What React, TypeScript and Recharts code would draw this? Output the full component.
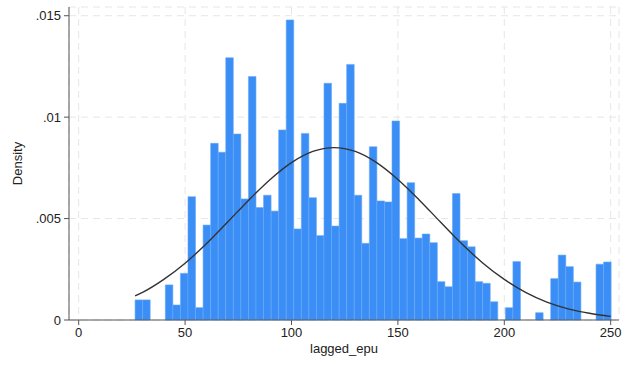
import React from "react";
import {
  ComposedChart,
  Line,
  XAxis,
  YAxis,
  CartesianGrid,
  ReferenceArea,
} from "recharts";

// histogram bins (63 equal bins starting at the data minimum)
const BIN_START = 26.5;
const BIN_WIDTH = 3.551;
const densities = [
  0.00099, 0.00099, 0, 0, 0.00173, 0.00074, 0.0023, 0.00608, 0.00061, 0.00468,
  0.00871, 0.00827, 0.01293, 0.00917, 0.00597, 0.012, 0.00554, 0.00615, 0.00537, 0.00937,
  0.01479, 0.00449, 0.0092, 0.00603, 0.00416, 0.01167, 0.00463, 0.01068, 0.0126, 0.00615,
  0.00378, 0.00854, 0.00587, 0.00582, 0.00981, 0.00401, 0.00677, 0.00404, 0.00424, 0.00381,
  0.00189, 0.00164, 0.00623, 0.00391, 0.00361, 0.00189, 0.00181, 0.0009, 0, 0.00061,
  0.00288, 0, 0, 0.00036, 0, 0.00204, 0.0032, 0.00263, 0.00187, 0, 0, 0.00275, 0.00286,
];

// normal density overlay
const curveX = [26.5, 30, 40, 50, 60, 70, 80, 90, 100, 110, 120, 130, 140, 150, 160, 170, 180, 190, 200, 210, 220, 230, 240, 250];
const curveY = [
  0.00119, 0.00136, 0.002, 0.0028, 0.00376, 0.00483, 0.00592, 0.00693, 0.00776, 0.00831, 0.0085, 0.00831,
  0.00776, 0.00693, 0.00592, 0.00483, 0.00376, 0.0028, 0.002, 0.00136, 0.00088, 0.00055, 0.00033, 0.00018,
];

const xTicks = [0, 50, 100, 150, 200, 250];
const yTicks = [0, 0.005, 0.01, 0.015];

const curveData = curveX.map((x, i) => ({ x, y: curveY[i] }));
const bins = densities.map((d, i) => ({
  x1: BIN_START + i * BIN_WIDTH,
  x2: BIN_START + (i + 1) * BIN_WIDTH,
  d,
}));

const font = "'Liberation Sans', Arial, Helvetica, sans-serif";
const fmtY = (v: number) => (v === 0 ? "0" : v.toString().replace(/^0\./, "."));

export default function App() {
  return (
    <div style={{ position: "absolute", left: 0, top: 0, width: 629, height: 365, background: "#fff" }}>
      <ComposedChart width={629} height={365} margin={{ top: 7, right: 10, bottom: 0, left: 0 }}>
        <CartesianGrid stroke="#e6e6e6" strokeDasharray="7 5" />
        <XAxis
          type="number"
          dataKey="x"
          domain={[-4.55, 253.9]}
          allowDataOverflow
          ticks={xTicks}
          height={45}
          tickSize={5}
          tickMargin={3}
          stroke="#555"
          tick={{ fill: "#222", fontSize: 13, fontFamily: font }}
          label={{ value: "lagged_epu", position: "insideBottom", offset: 12, fill: "#222", fontSize: 13, fontFamily: font }}
        />
        <YAxis
          type="number"
          domain={[0, 0.01543]}
          allowDataOverflow
          ticks={yTicks}
          width={69}
          tickSize={5}
          tickMargin={3}
          stroke="#555"
          tickFormatter={fmtY}
          tick={{ fill: "#222", fontSize: 13, fontFamily: font }}
          label={{
            value: "Density",
            angle: -90,
            position: "insideLeft",
            offset: 17,
            fill: "#222",
            fontSize: 13,
            fontFamily: font,
            style: { textAnchor: "middle" },
          }}
        />
        {bins
          .filter(b => b.d > 0)
          .map((b, i) => (
            <ReferenceArea
              key={i}
              x1={b.x1}
              x2={b.x2}
              y1={0}
              y2={b.d}
              fill="#3a8ef6"
              fillOpacity={1}
              stroke="#6aa9f7"
              strokeWidth={0.6}
            />
          ))}
        <Line
          data={curveData}
          dataKey="y"
          type="monotone"
          stroke="#333"
          strokeWidth={1.4}
          dot={false}
          isAnimationActive={false}
        />
      </ComposedChart>
    </div>
  );
}
